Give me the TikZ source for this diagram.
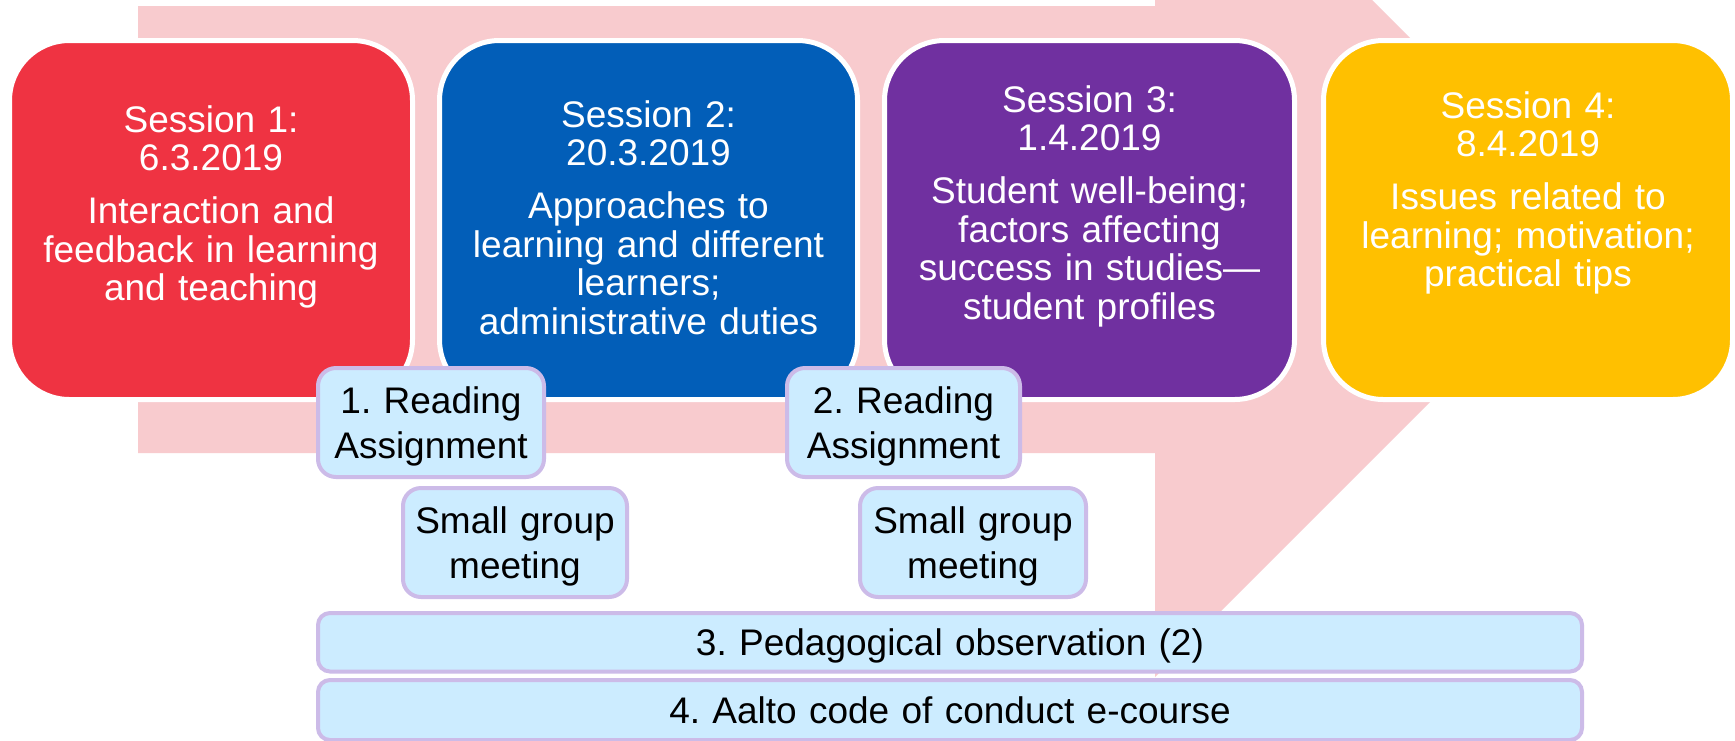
\documentclass[tikz,border=0pt]{standalone}
\usepackage{fontspec}
\setmainfont{Liberation Sans}
\frenchspacing
\definecolor{arrowpink}{RGB}{248,203,206}
\definecolor{redS}{RGB}{239,51,66}
\definecolor{blueS}{RGB}{2,94,184}
\definecolor{purpleS}{RGB}{112,48,160}
\definecolor{yellowS}{RGB}{255,192,0}
\definecolor{lblue}{RGB}{204,236,255}
\definecolor{lav}{RGB}{204,187,232}
\begin{document}
\begin{tikzpicture}[x=1pt,y=-1pt,
  sess/.style={draw=white, line width=5pt, rounded corners=60pt, inner sep=0pt, outer sep=0pt},
  stext/.style={text=white, font=\frenchspacing\fontsize{37}{38.5}\selectfont, text width=420pt, align=center, anchor=base, inner sep=0pt},
  task/.style={draw=lav, fill=lblue, line width=4pt, rounded corners=18pt, inner sep=0pt, outer sep=0pt},
  ttext/.style={text=black, font=\frenchspacing\fontsize{37}{45}\selectfont, text width=400pt, align=center, anchor=base, inner sep=0pt}
]
\useasboundingbox (0,0) rectangle (1735,740);
\fill[white] (0,0) rectangle (1735,740);
% big background arrow
\begin{scope}
\clip (0,0) rectangle (1735,740);
\fill[arrowpink] (138,6) -- (1155,6) -- (1155,-217) -- (1602,230) -- (1155,677) -- (1155,453) -- (138,453) -- cycle;
\end{scope}
% session boxes
\node[sess, fill=redS,    minimum width=403pt, minimum height=359pt] (s1) at (211,220) {};
\node[sess, fill=blueS,   minimum width=418pt, minimum height=359pt] (s2) at (648.5,220) {};
\node[sess, fill=purpleS, minimum width=410pt, minimum height=359pt] (s3) at (1089.5,220) {};
\node[sess, fill=yellowS, minimum width=409pt, minimum height=359pt] (s4) at (1528,220) {};
% session texts
\node[stext] (t1) at (211,132) {Session 1:\\6.3.2019\\[14.5pt]Interaction and\\feedback in learning\\and teaching};
\node[stext] (t2) at (648.5,127) {Session 2:\\20.3.2019\\[14.5pt]Approaches to\\learning and different\\learners;\\administrative duties};
\node[stext] (t3) at (1089.5,112) {Session 3:\\1.4.2019\\[14.5pt]Student well-being;\\factors affecting\\success in studies—\\student profiles};
\node[stext] (t4) at (1528,118) {Session 4:\\8.4.2019\\[14.5pt]Issues related to\\learning; motivation;\\practical tips};
% task boxes
\node[task, minimum width=226pt, minimum height=109pt] (r1) at (431,422.5) {};
\node[task, minimum width=224pt, minimum height=109pt] (g1) at (515,542.5) {};
\node[task, minimum width=233pt, minimum height=109pt] (r2) at (903.5,422.5) {};
\node[task, minimum width=226pt, minimum height=109pt] (g2) at (973,542.5) {};
\node[task, minimum width=1264pt, minimum height=58.5pt, rounded corners=12pt] (p3) at (950,642.25) {};
\node[task, minimum width=1264pt, minimum height=60pt, rounded corners=12pt] (p4) at (950,710) {};
% task texts
\node[ttext] (tr1) at (431,413) {1. Reading\\Assignment};
\node[ttext] (tg1) at (515,533) {Small group\\meeting};
\node[ttext] (tr2) at (903.5,413) {2. Reading\\Assignment};
\node[ttext] (tg2) at (973,533) {Small group\\meeting};
\node[ttext, text width=1200pt] (tp3) at (950,655) {3. Pedagogical observation (2)};
\node[ttext, text width=1200pt] (tp4) at (950,723) {4. Aalto code of conduct e-course};
\end{tikzpicture}
\end{document}
